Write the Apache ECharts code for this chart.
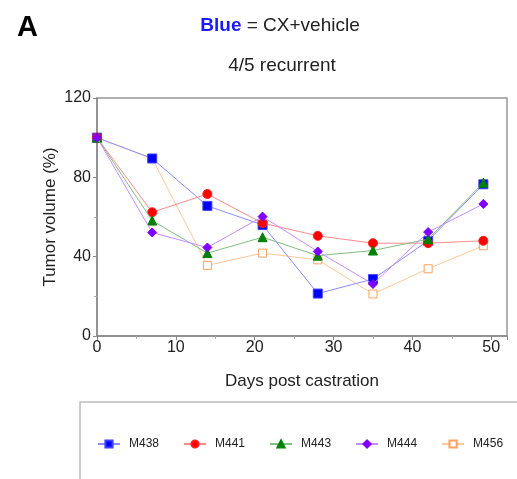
<!DOCTYPE html>
<html>
<head>
<meta charset="utf-8">
<script src="https://cdn.jsdelivr.net/npm/echarts@6/dist/echarts.min.js"></script>
<style>
  html, body { margin: 0; padding: 0; background: #fff; }
  #main { width: 517px; height: 479px; }
</style>
</head>
<body>
<div id="main"></div>
<script>
// days post castration
const days = [0, 7, 14, 21, 28, 35, 42, 49];

// tumor volume (%) per mouse
const m438 = [100, 89.5, 65.6, 56.0, 21.4, 28.7, 48.0, 76.5];
const m441 = [100, 62.4, 71.6, 56.9, 50.5, 46.8, 46.8, 48.0];
const m443 = [100, 58.2, 41.8, 49.8, 40.5, 43.1, 48.8, 77.3];
const m444 = [100, 52.2, 44.6, 60.2, 42.6, 26.2, 52.4, 66.6];
const m456 = [100, 89.5, 35.6, 41.8, 38.4, 21.2, 33.9, 45.5];

const names = ['M438', 'M441', 'M443', 'M444', 'M456'];

const font = 'Liberation Sans, Arial, sans-serif';

function pairs(vals) {
  return days.map((d, i) => [d, vals[i]]);
}

function mkSeries(name, vals, symbol, size, lineColor, fill, border, z) {
  return {
    name: name,
    type: 'line',
    z: z,
    data: pairs(vals),
    symbol: symbol,
    symbolSize: size,
    showAllSymbol: true,
    lineStyle: { color: lineColor, width: 1 },
    itemStyle: { color: fill, borderColor: border, borderWidth: 1 },
    emphasis: { disabled: true },
    animation: false
  };
}

const myChart = echarts.init(document.getElementById('main'));
myChart.setOption({
  backgroundColor: '#fff',
  title: [
    {
      text: 'A',
      left: 12, top: 8,
      textStyle: { fontFamily: font, fontSize: 29, fontWeight: 'bold', color: '#000' }
    },
    {
      text: '{b|Blue} = CX+vehicle',
      left: 275, top: 11, textAlign: 'center',
      textStyle: {
        fontFamily: font, fontSize: 19, fontWeight: 'normal', color: '#222',
        rich: { b: { fontFamily: font, fontSize: 19, fontWeight: 'bold', color: '#1a1aff' } }
      }
    },
    {
      text: '4/5 recurrent',
      left: 277, top: 51, textAlign: 'center',
      textStyle: { fontFamily: font, fontSize: 19, fontWeight: 'normal', color: '#222' }
    }
  ],
  grid: { left: 97, top: 98, right: 10, bottom: 143, containLabel: false },
  xAxis: {
    type: 'value',
    min: 0, max: 52, interval: 10,
    name: 'Days post castration',
    nameLocation: 'middle',
    nameGap: 37,
    nameTextStyle: { fontFamily: font, fontSize: 17, color: '#222' },
    axisLine: { show: true, onZero: false, lineStyle: { color: '#888', width: 1.5 } },
    axisTick: { show: true, length: 4, lineStyle: { color: '#888' } },
    minorTick: { show: true, splitNumber: 2, length: 3, lineStyle: { color: '#aaa' } },
    axisLabel: {
      fontFamily: font, fontSize: 16, color: '#222', margin: 4,
      formatter: v => (v % 10 === 0 && v <= 50 ? String(v) : '')
    },
    splitLine: { show: false }
  },
  yAxis: {
    type: 'value',
    min: 0, max: 120, interval: 40,
    name: 'Tumor volume (%)',
    nameLocation: 'middle',
    nameGap: 38,
    nameMoveOverlap: false,
    nameTextStyle: { fontFamily: font, fontSize: 17, color: '#222' },
    axisLine: { show: true, onZero: false, lineStyle: { color: '#888', width: 1.5 } },
    axisTick: { show: true, length: 4, lineStyle: { color: '#888' } },
    minorTick: { show: true, splitNumber: 2, length: 3, lineStyle: { color: '#aaa' } },
    axisLabel: { fontFamily: font, fontSize: 16, color: '#222', margin: 6 },
    splitLine: { show: false }
  },
  graphic: [
    {
      type: 'rect',
      shape: { x: 97, y: 98, width: 410, height: 238 },
      style: { fill: 'none', stroke: '#999', lineWidth: 1.5 },
      silent: true, z: 0
    },
    {
      type: 'rect',
      shape: { x: 80, y: 402, width: 450, height: 90 },
      style: { fill: 'none', stroke: '#bbb', lineWidth: 1.5 },
      silent: true
    }
  ],
  legend: {
    data: names,
    left: 92, top: 433,
    itemWidth: 22, itemHeight: 9, itemGap: 24,
    textStyle: { fontFamily: font, fontSize: 12, color: '#222', padding: [0, 0, 0, 4] }
  },
  series: [
    mkSeries('M438', m438, 'rect', 9, '#8c8cff', '#0000ff', '#4040ff', 3),
    mkSeries('M441', m441, 'circle', 9, '#ff8c8c', '#ff0000', '#ff2020', 4),
    mkSeries('M443', m443, 'triangle', 9, '#80c080', '#008000', '#008000', 5),
    mkSeries('M444', m444, 'diamond', 9, '#c88cff', '#8000ff', '#8000ff', 6),
    mkSeries('M456', m456, 'rect', 8, '#ffc898', '#fff', '#ffa060', 2)
  ]
});
</script>
</body>
</html>
